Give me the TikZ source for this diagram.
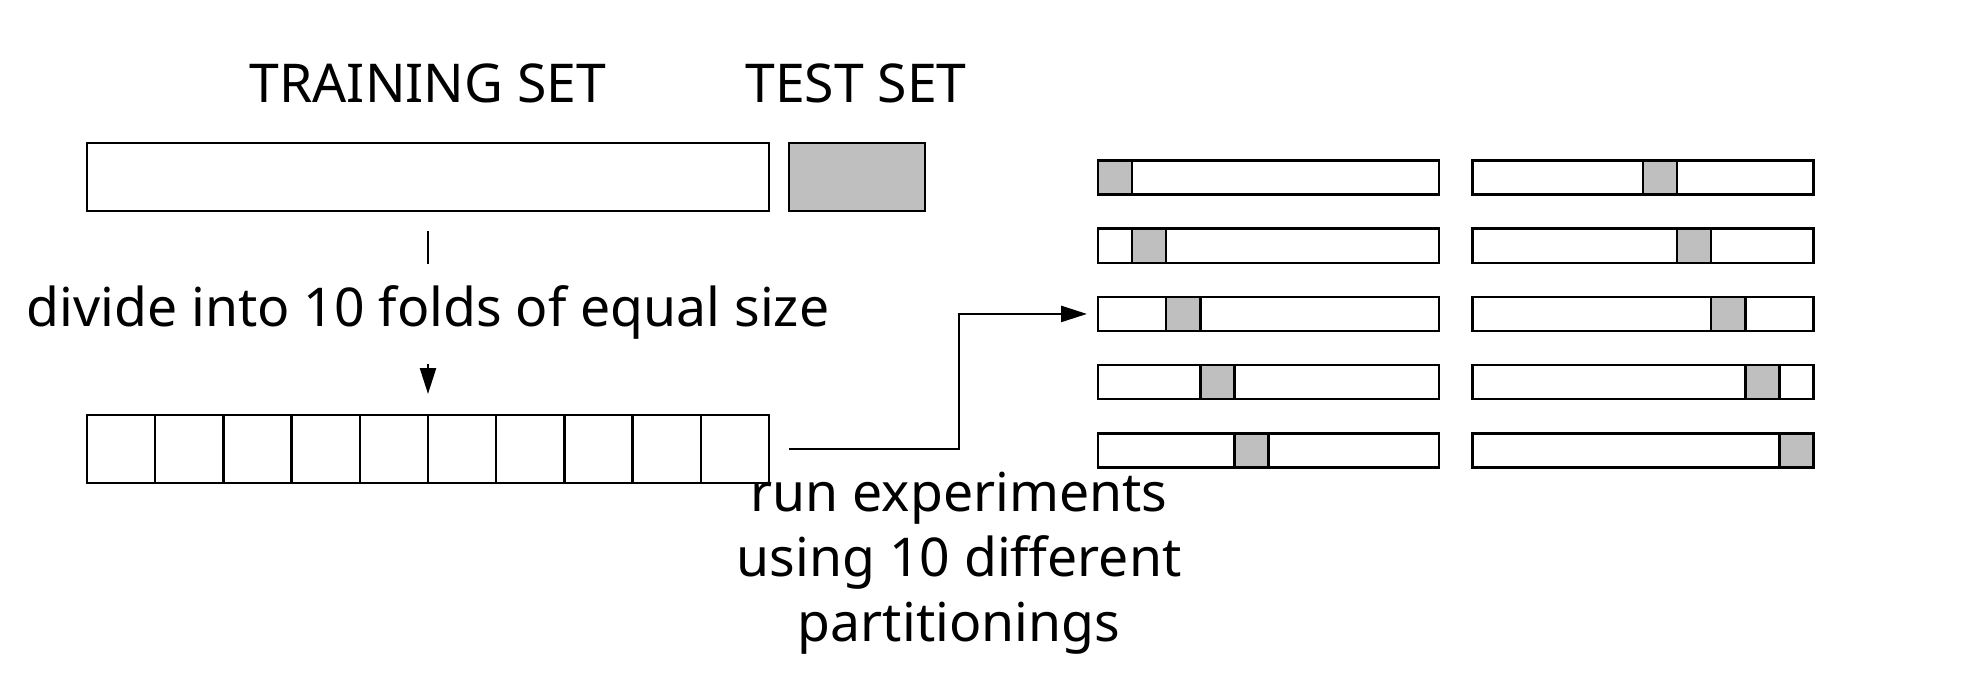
\documentclass[tikz,border=0pt]{standalone}
\usepackage{fontspec}
\setmainfont{Noto Sans}
\usetikzlibrary{arrows.meta}
\definecolor{foldgray}{HTML}{BFBFBF}
\begin{document}
\begin{tikzpicture}[x=1pt,y=-1pt,line width=2.5pt,
  box/.style={draw,inner sep=0pt,outer sep=0pt,anchor=north west},
  bigtxt/.style={font=\fontsize{53.5}{65}\selectfont,inner sep=0pt},
  arr/.style={-{Triangle[length=26pt,width=16pt]}}]
\useasboundingbox (0,0) rectangle (1982,688);
% top labels
\node[bigtxt] (tl) at (428,83) {TRAINING SET};
\node[bigtxt] (ts) at (856,83) {TEST SET};
% training and test sets
\node[box,minimum width=682pt,minimum height=68pt] (train) at (87,143) {};
\node[box,fill=foldgray,minimum width=136pt,minimum height=68pt] (test) at (789,143) {};
% folds
\node[box,minimum width=682pt,minimum height=68pt] (folds) at (87,415) {};
\foreach \i in {0,...,9}{
  \node[box,minimum width=68.2pt,minimum height=68pt] (f\i) at ({87+68.2*\i},415) {};
}
% divide label and connectors
\node[bigtxt] (div) at (428,312) {divide into 10 folds of equal size};
\draw ([yshift=-20pt]train.south) -- ([yshift=-53pt]train.south);
\draw[arr] ([yshift=51pt]f4.north east) -- ([yshift=21pt]f4.north east);
% partitionings
\foreach \r in {0,...,4}{
  \node[box,minimum width=341pt,minimum height=34.1pt] (a\r) at (1098,{160.5+68.2*\r}) {};
  \node[box,fill=foldgray,minimum width=34.1pt,minimum height=34.1pt] (ag\r) at ({1098+34.1*\r},{160.5+68.2*\r}) {};
  \node[box,minimum width=341pt,minimum height=34.1pt] (b\r) at (1472.5,{160.5+68.2*\r}) {};
  \node[box,fill=foldgray,minimum width=34.1pt,minimum height=34.1pt] (bg\r) at ({1472.5+34.1*(5+\r)},{160.5+68.2*\r}) {};
}
\draw[arr] ([xshift=20pt]folds.east) -- ++(170,0) |- ([xshift=-11pt]a2.west);
\node[bigtxt,align=center] (run) at (959,563) {run experiments\\using 10 different\\partitionings};
\end{tikzpicture}
\end{document}
